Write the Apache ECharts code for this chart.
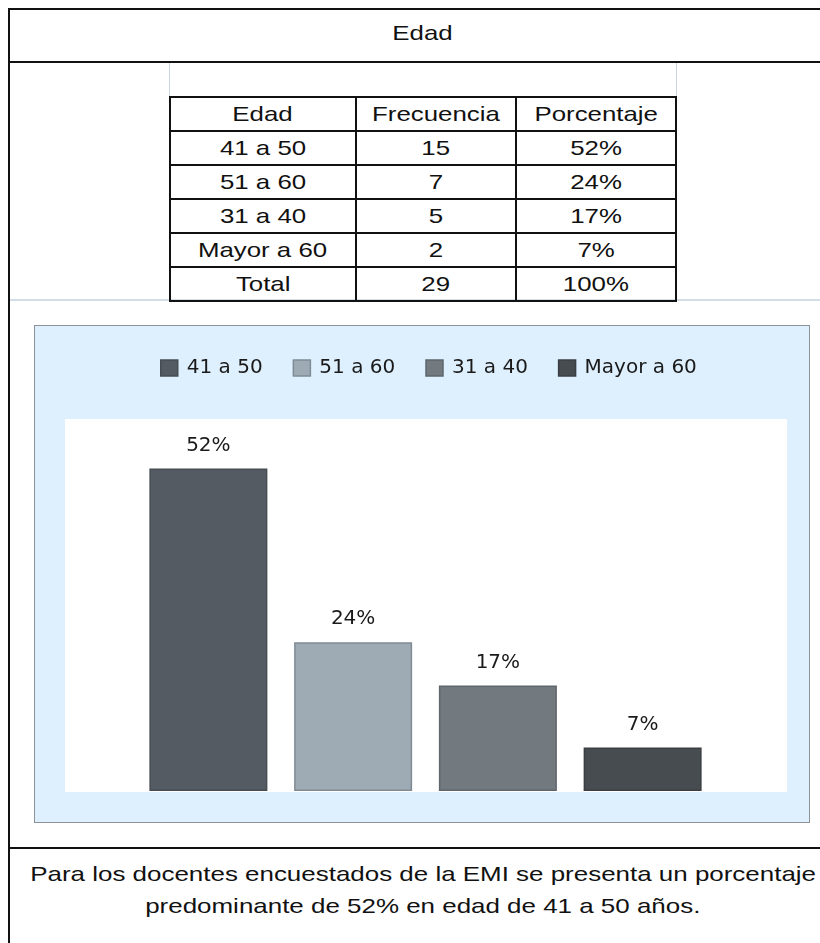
<!DOCTYPE html>
<html>
<head>
<meta charset="utf-8">
<script src="https://cdn.jsdelivr.net/npm/echarts@6/dist/echarts.min.js"></script>
<style>
  html, body { margin: 0; width: 820px; height: 943px; overflow: hidden; background: #fff; }
  body { font-family: "Liberation Sans", Arial, sans-serif; position: relative; }
  .frame { position: absolute; left: 8px; top: 8px; width: 900px; height: 1000px; border: 2px solid #111; box-sizing: border-box; }
  .title { position: absolute; left: 8px; width: 830px; top: 21px; text-align: center; font-size: 21px; color: #111; }
  .sx { display: inline-block; transform: scaleX(1.23); }
  .hline { position: absolute; left: 8px; width: 900px; height: 2px; background: #111; }
  .thin { position: absolute; left: 10px; width: 900px; height: 2px; background: #d4dee8; top: 299px; }
  .vl { position: absolute; width: 1px; background: #c9d7e4; top: 63px; height: 34px; }
  table { position: absolute; left: 169px; top: 96px; border-collapse: collapse; font-size: 21px; color: #111; }
  td { border: 2px solid #111; height: 32px; padding: 0; text-align: center; line-height: 32px; }
  #chart { position: absolute; left: 34px; top: 325px; width: 776px; height: 498px; box-sizing: border-box; border: 1px solid #8e9296; }
  .note { position: absolute; left: 8px; width: 830px; top: 858px; text-align: center; font-size: 21px; line-height: 32px; color: #111; }
  .note .sx { transform: scaleX(1.235); }
</style>
</head>
<body>
<div class="frame"></div>
<div class="title"><span class="sx">Edad</span></div>
<div class="hline" style="top:61px"></div>
<div class="vl" style="left:169px"></div>
<div class="vl" style="left:676px"></div>
<div class="thin"></div>
<table id="tbl"></table>
<div class="hline" style="top:847px"></div>
<div class="note"><span class="sx">Para los docentes encuestados de la EMI se presenta un porcentaje</span><br><span class="sx">predominante de 52% en edad de 41 a 50 años.</span></div>
<div id="chart"></div>
<script>
var headers = ['Edad', 'Frecuencia', 'Porcentaje'];
var categories = ['41 a 50', '51 a 60', '31 a 40', 'Mayor a 60'];
var frequencies = [15, 7, 5, 2];
var percentages = [52, 24, 17, 7];
var totalLabel = ['Total', '29', '100%'];
var colors = ['#545b62', '#9eabb4', '#72797f', '#474c50'];
var borders = ['#474d53', '#7f8b94', '#5f666c', '#3b3f43'];

// tabla de frecuencias
var colW = [184, 158, 158];
function cell(t, w) {
    return '<td' + (w ? ' style="width:' + w + 'px"' : '') + '><span class="sx">' + t + '</span></td>';
}
var html = '<tr>' + headers.map(function (h, i) { return cell(h, colW[i]); }).join('') + '</tr>';
categories.forEach(function (c, i) {
    html += '<tr>' + cell(c) + cell(frequencies[i]) + cell(percentages[i] + '%') + '</tr>';
});
html += '<tr>' + totalLabel.map(function (t) { return cell(t); }).join('') + '</tr>';
document.getElementById('tbl').innerHTML = html;

var myChart = echarts.init(document.getElementById('chart'));
var series = categories.map(function (name, i) {
    var d = categories.map(function (c, j) { return j === i ? percentages[i] : '-'; });
    return {
        name: name,
        type: 'bar',
        stack: 'edad',
        barWidth: 118,
        data: d,
        itemStyle: { color: colors[i], borderColor: borders[i], borderWidth: 1.5 },
        label: {
            show: true,
            position: 'top',
            distance: 13,
            formatter: '{c}%',
            fontFamily: 'DejaVu Sans',
            fontSize: 20,
            color: '#1a1a1a'
        }
    };
});
option = {
    backgroundColor: '#def0fd',
    animation: false,
    graphic: [{
        type: 'rect',
        left: 30,
        top: 93,
        shape: { width: 722, height: 373 },
        style: { fill: '#ffffff' },
        z: -10
    }],
    legend: {
        top: 27,
        left: 120,
        itemWidth: 17,
        itemHeight: 16,
        itemGap: 30,
        icon: 'rect',
        data: categories.map(function (c, i) {
            return { name: c, itemStyle: { borderColor: borders[i], borderWidth: 1.5 } };
        }),
        textStyle: { fontFamily: 'DejaVu Sans', fontSize: 20, color: '#1a1a1a', padding: [0, 0, 0, 4] }
    },
    grid: { left: 101, right: 94, top: 93, bottom: 31, containLabel: false },
    xAxis: {
        type: 'category',
        data: categories,
        axisLine: { show: false },
        axisTick: { show: false },
        axisLabel: { show: false }
    },
    yAxis: {
        type: 'value',
        min: 0,
        max: 60,
        axisLine: { show: false },
        axisTick: { show: false },
        axisLabel: { show: false },
        splitLine: { show: false }
    },
    series: series
};
myChart.setOption(option);
</script>
</body>
</html>
